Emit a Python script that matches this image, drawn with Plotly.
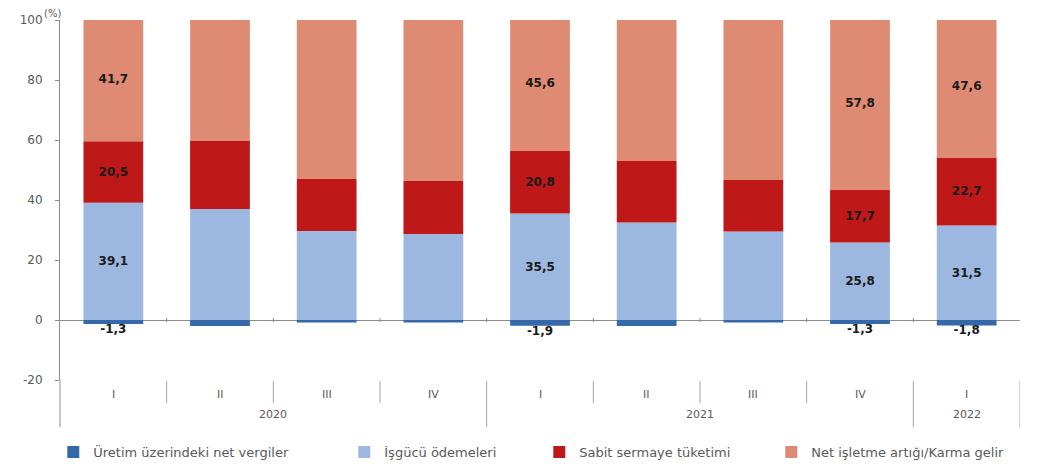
import plotly.graph_objects as go

quarters = ["I", "II", "III", "IV", "I", "II", "III", "IV", "I"]
years = ["2020", "2021", "2022"]
year_centers = [1.5, 5.5, 8]
year_bounds = [3.5, 7.5, 8.5]

net_taxes = [-1.3, -2.0, -0.8, -0.8, -1.9, -2.0, -0.8, -1.3, -1.8]
labour = [39.1, 37.0, 29.7, 28.7, 35.5, 32.5, 29.5, 25.8, 31.5]
capital_cons = [20.5, 22.7, 17.3, 17.6, 20.8, 20.5, 17.2, 17.7, 22.7]
net_operating = [41.7, 42.3, 53.8, 54.5, 45.6, 49.0, 54.1, 57.8, 47.6]
labelled = [0, 4, 7, 8]

names = ["Üretim üzerindeki net vergiler", "İşgücü ödemeleri",
         "Sabit sermaye tüketimi", "Net işletme artığı/Karma gelir"]
colors = ["#3468A8", "#9DB8E0", "#BE1818", "#DF8A72"]
legend_widths = [246, 150, 187, 240]

FONT = "DejaVu Sans"
GRAY = "#595959"


def fmt(v):
    return f"{v:.1f}".replace(".", ",")


def labels(vals):
    return [fmt(v) if i in labelled else "" for i, v in enumerate(vals)]


x = list(range(len(quarters)))
fig = go.Figure()

series = [net_taxes, labour, capital_cons, net_operating]
for k, vals in enumerate(series):
    fig.add_trace(go.Bar(
        x=x, y=vals, name=names[k],
        marker=dict(color=colors[k], line=dict(width=0)),
        text=None if k == 0 else labels(vals),
        textposition="inside", insidetextanchor="middle", textangle=0,
        textfont=dict(family=FONT, size=12, color="#1a1a1a", weight="bold"),
        legendwidth=legend_widths[k],
        hoverinfo="skip",
    ))

# labels for the negative net-tax bars, below the bars
fig.add_trace(go.Scatter(
    x=x, y=net_taxes, mode="text", text=labels(net_taxes),
    textposition="bottom center",
    textfont=dict(family=FONT, size=12, color="#1a1a1a", weight="bold"),
    showlegend=False, hoverinfo="skip",
))

fig.update_layout(
    width=1037, height=470,
    margin=dict(l=52, r=25, t=12, b=98, autoexpand=False),
    paper_bgcolor="white", plot_bgcolor="white",
    barmode="relative", bargap=0.44,
    font=dict(family=FONT, color=GRAY),
    legend=dict(orientation="h", x=-0.007, y=-0.2, xanchor="left", yanchor="middle",
                font=dict(family=FONT, size=13, color=GRAY),
                itemsizing="constant", traceorder="normal",
                bgcolor="rgba(0,0,0,0)"),
)

fig.update_xaxes(range=[-0.5, 8.5], showticklabels=False, showgrid=False,
                 zeroline=False, showline=False, ticks="", automargin=False)
fig.update_yaxes(range=[-20, 100], tickvals=[-20, 0, 20, 40, 60, 80, 100],
                 ticktext=["-20", "0", "20", "40", "60", "80", "100"],
                 showgrid=False, showline=True, linecolor="#8c8c8c", linewidth=1,
                 ticks="outside", ticklen=4, tickcolor="#8c8c8c",
                 ticklabelstandoff=10, automargin=False,
                 tickfont=dict(family=FONT, size=12, color=GRAY),
                 zeroline=True, zerolinecolor="#8c8c8c", zerolinewidth=1)

# (%) unit label
fig.add_annotation(text="(%)", xref="paper", yref="paper", x=-0.008, y=1.019,
                   showarrow=False, xanchor="center", yanchor="middle",
                   font=dict(family=FONT, size=10, color=GRAY))

# quarter labels
for i, q in enumerate(quarters):
    fig.add_annotation(text=q, x=i, xref="x", yref="paper", y=-0.039,
                       showarrow=False, yanchor="middle",
                       font=dict(family=FONT, size=11, color=GRAY))
# year labels
for yr, c in zip(years, year_centers):
    fig.add_annotation(text=yr, x=c, xref="x", yref="paper", y=-0.097,
                       showarrow=False, yanchor="middle",
                       font=dict(family=FONT, size=11, color=GRAY))

# separators
for i in range(len(quarters)):
    b = i + 0.5
    long = b in year_bounds
    fig.add_shape(type="line", xref="x", yref="paper", x0=b, x1=b,
                  y0=-0.003, y1=-0.131 if long else -0.064,
                  line=dict(color="#a6a6a6", width=1))
# small tick marks on the zero line at category boundaries
for i in range(len(quarters) - 1):
    b = i + 0.5
    fig.add_shape(type="line", xref="x", yref="y", x0=b, x1=b, y0=-0.7, y1=0.7,
                  line=dict(color="#8c8c8c", width=1))
# extend y-axis line down through the label area
fig.add_shape(type="line", xref="paper", yref="paper", x0=0, x1=0,
              y0=0, y1=-0.131, line=dict(color="#8c8c8c", width=1))

fig.write_html("out.html")
